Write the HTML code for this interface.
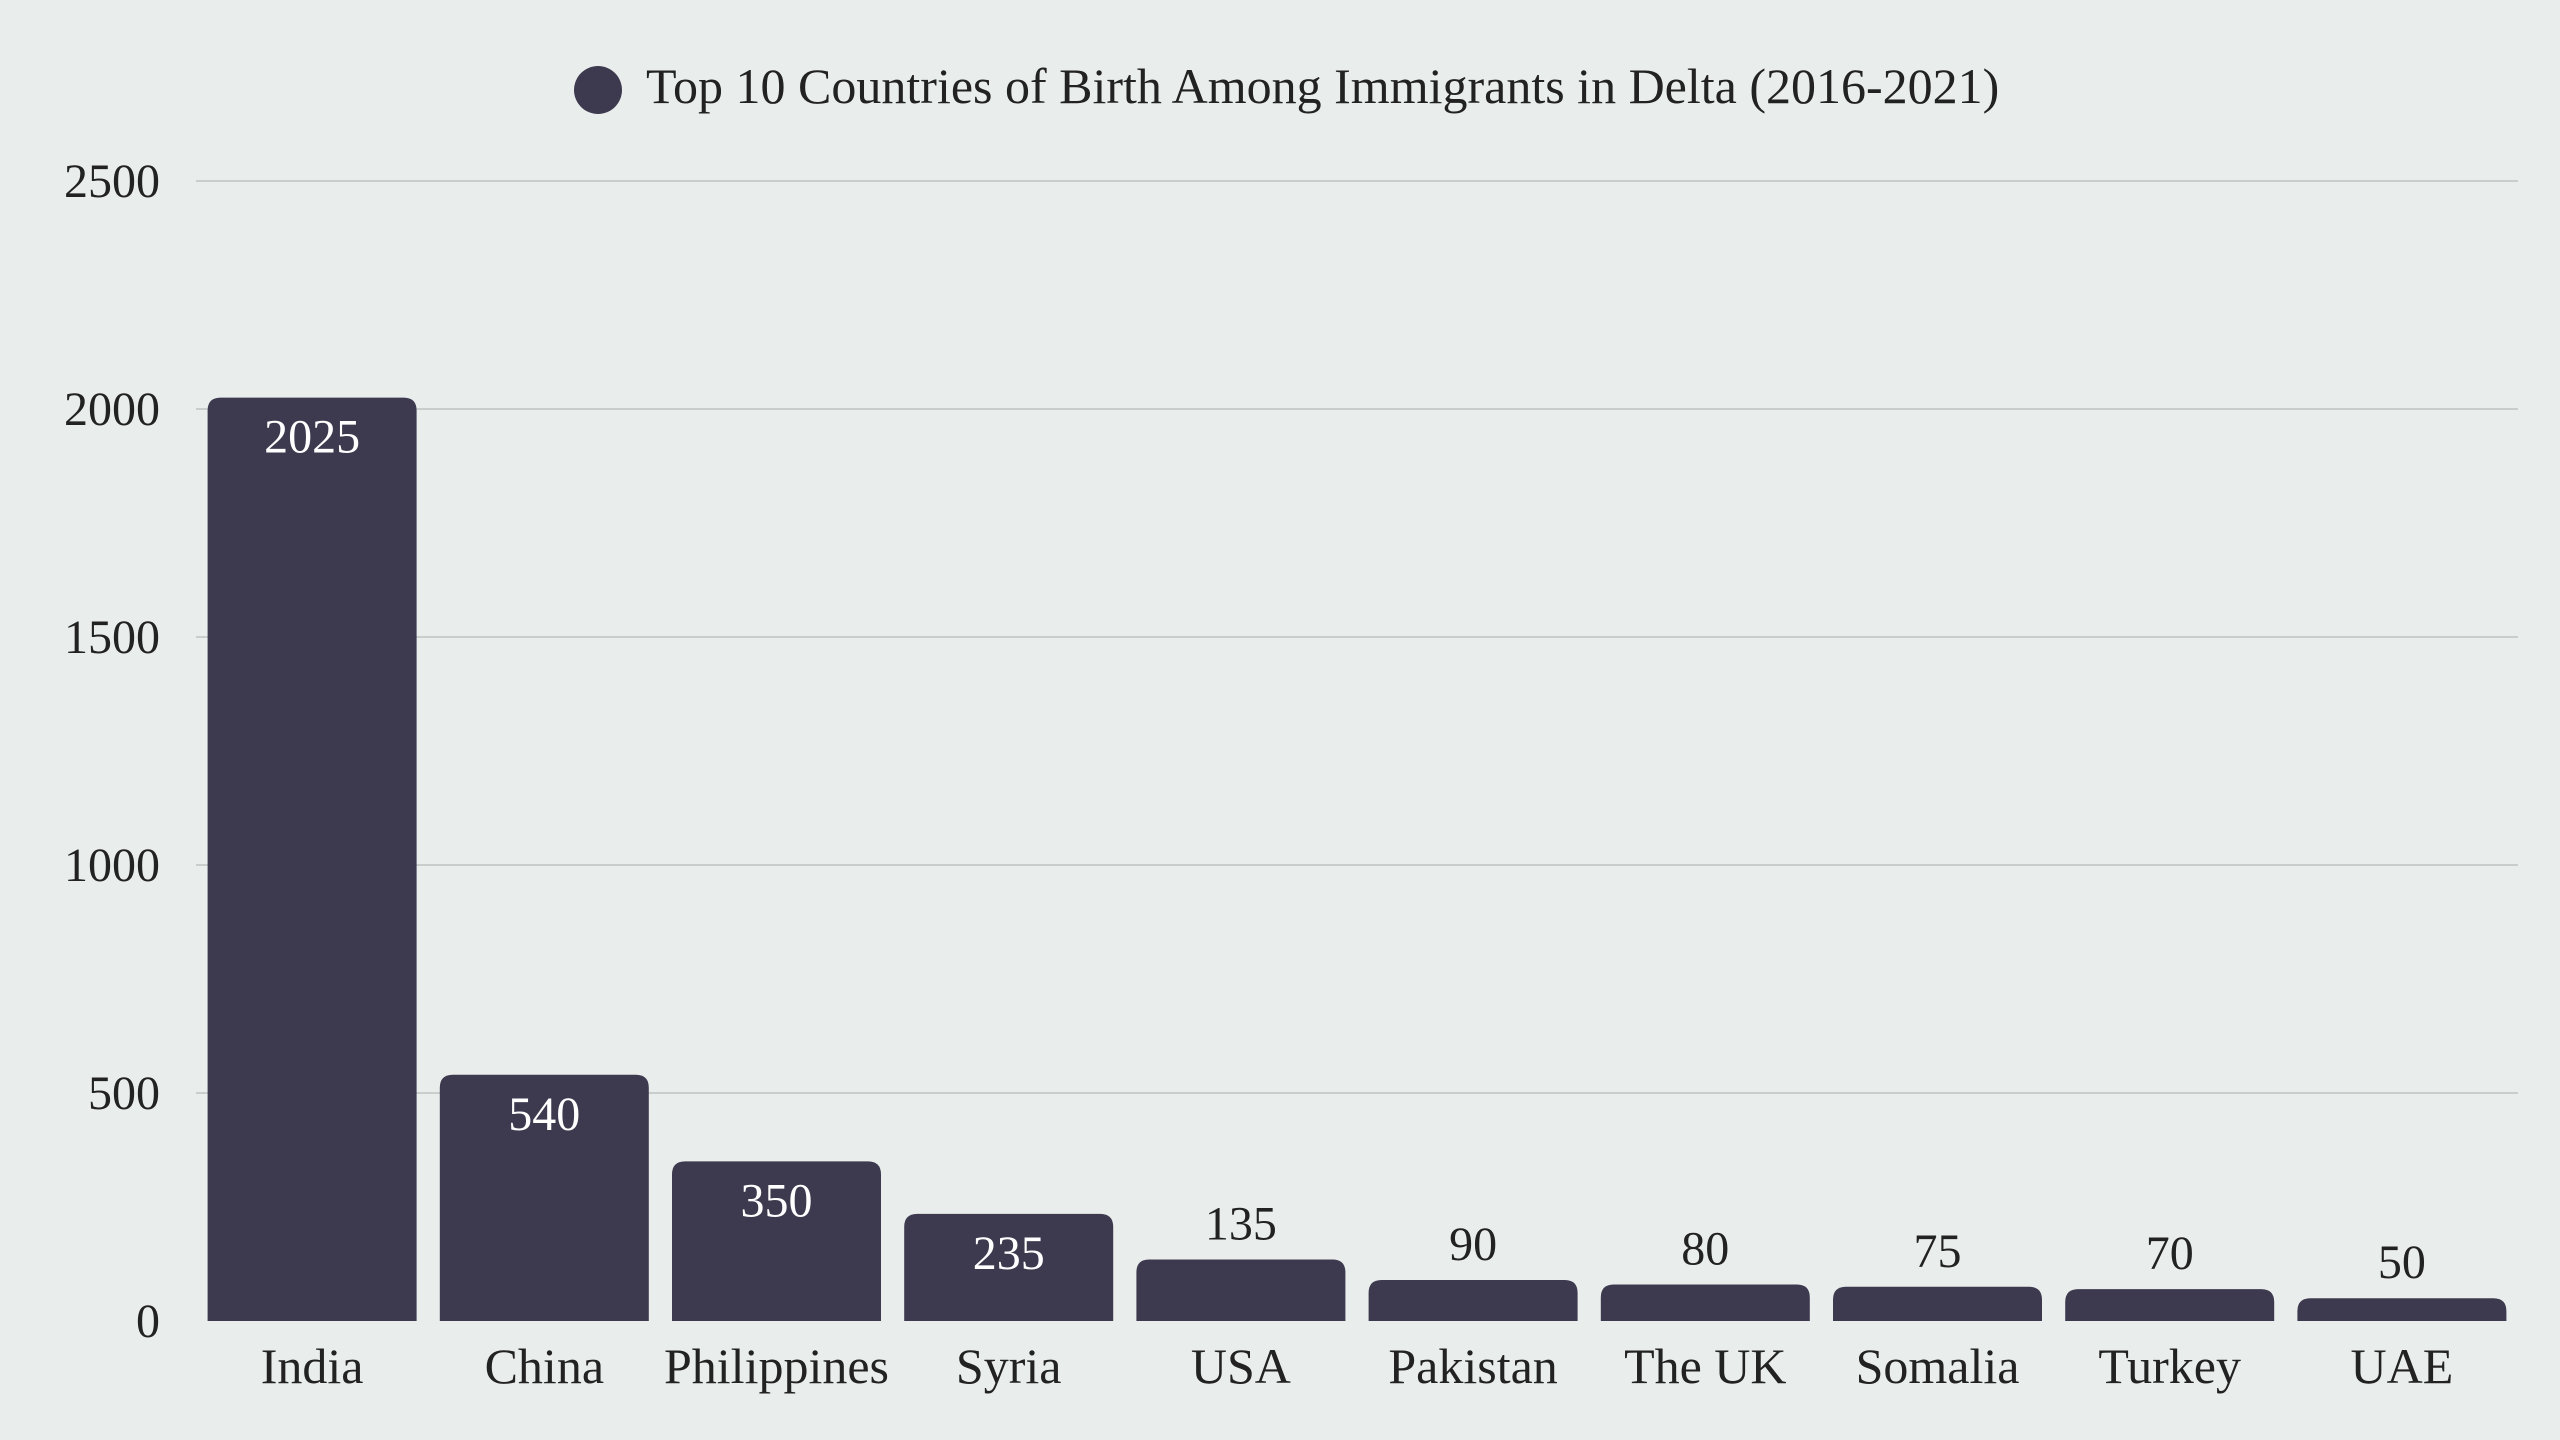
<!DOCTYPE html>
<html><head><meta charset="utf-8">
<style>
html,body{margin:0;padding:0;background:#e9eeec;}
svg{display:block;font-family:"Liberation Serif",serif;}
</style></head>
<body>
<svg id="chart" width="2560" height="1440" viewBox="0 0 2560 1440" xmlns="http://www.w3.org/2000/svg">
<rect width="2560" height="1440" fill="#e9eeec"/>
<g>
<circle cx="598" cy="90" r="24" fill="#3d3a4f"/>
<text x="646" y="103" font-size="50" fill="#222">Top 10 Countries of Birth Among Immigrants in Delta (2016-2021)</text>
</g>
<g id="grid"></g>
<g id="yticks"></g>
<g id="bars"></g>
<g id="xlabels"></g>
</svg>
<script>
const categories = ["India","China","Philippines","Syria","USA","Pakistan","The UK","Somalia","Turkey","UAE"];
const values = [2025,540,350,235,135,90,80,75,70,50];
const yTicks = [0,500,1000,1500,2000,2500];

const NS="http://www.w3.org/2000/svg";
const plotL=196, plotR=2518, y0=1321, yTop=181, yMax=2500;
const band=(plotR-plotL)/categories.length, barW=209;
function y(v){return y0-(v/yMax)*(y0-yTop);}
function xc(i){return plotL+band*i+band/2;}
function mk(tag,attrs,parent){const e=document.createElementNS(NS,tag);for(const k in attrs)e.setAttribute(k,attrs[k]);parent.appendChild(e);return e;}
const grid=document.getElementById('grid'),yt=document.getElementById('yticks'),bars=document.getElementById('bars'),xl=document.getElementById('xlabels');
yTicks.forEach(t=>{
  if(t>0){const l=mk('line',{x1:plotL,x2:plotR,y1:y(t),y2:y(t),stroke:'#c9cecc','stroke-width':2},grid);
  
  }
  const tx=mk('text',{x:160,y:y(t)+16,'font-size':48,'text-anchor':'end',fill:'#222'},yt);
  tx.textContent=t;
  
  
});
categories.forEach((c,i)=>{
  const v=values[i], top=y(v), h=y0-top, x=xc(i)-barW/2, r=Math.min(13,h);
  const d=`M${x},${y0} L${x},${top+r} Q${x},${top} ${x+r},${top} L${x+barW-r},${top} Q${x+barW},${top} ${x+barW},${top+r} L${x+barW},${y0} Z`;
  const p=mk('path',{d:d,fill:'#3d3a4f'},bars);
  
  
  const inside=v>200;
  const vt=mk('text',{x:xc(i),y:inside?top+55:top-20,'font-size':48,'text-anchor':'middle',fill:inside?'#fff':'#222'},bars);
  vt.textContent=v;
  
  
  const ct=mk('text',{x:xc(i),y:1383,'font-size':50,'text-anchor':'middle',fill:'#222'},xl);
  ct.textContent=c;
  
  
});
</script>
</body></html>
